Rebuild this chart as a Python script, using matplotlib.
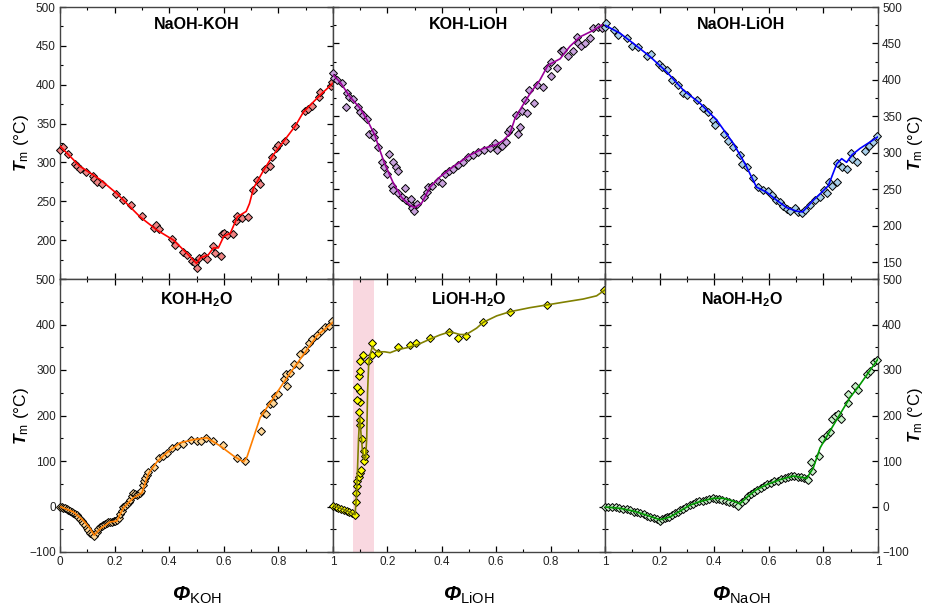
import matplotlib
matplotlib.use('Agg')
import matplotlib.pyplot as plt
from matplotlib.ticker import MultipleLocator

plt.rcParams['font.family'] = ['Liberation Sans', 'DejaVu Sans']
plt.rcParams['mathtext.fontset'] = 'custom'
plt.rcParams['mathtext.rm'] = 'Liberation Sans'
plt.rcParams['mathtext.it'] = 'Liberation Sans:italic'
plt.rcParams['mathtext.bf'] = 'Liberation Sans:bold:italic'
plt.rcParams['mathtext.sf'] = 'Liberation Sans:bold'

# ---------------- data ----------------
# NaOH-KOH
nk_px = [0, 0.01, 0.03, 0.055, 0.064, 0.073, 0.095, 0.12, 0.125, 0.134, 0.153, 0.205, 0.232, 0.26,
         0.302, 0.345, 0.352, 0.364, 0.41, 0.42, 0.452, 0.465, 0.483, 0.495, 0.50, 0.51, 0.528, 0.54,
         0.562, 0.568, 0.589, 0.595, 0.601, 0.611, 0.632, 0.644, 0.65, 0.666, 0.687, 0.707, 0.721,
         0.731, 0.75, 0.768, 0.778, 0.79, 0.80, 0.826, 0.862, 0.899, 0.91, 0.924, 0.947, 0.954,
         0.993, 0.996]
nk_py = [316, 320, 311, 298, 296, 291, 288, 283, 279, 275, 272, 259, 252, 245,
         231, 215, 219, 214, 201, 194, 185, 181, 173, 170, 164, 177, 180, 176,
         193, 183, 180, 208, 209, 206, 208, 225, 231, 228, 230, 265, 277,
         272, 291, 296, 307, 318, 322, 327, 347, 366, 369, 372, 384, 390,
         398, 404]
nk_lx = [0, 0.073, 0.147, 0.208, 0.293, 0.355, 0.416, 0.465, 0.50, 0.513, 0.543, 0.562, 0.58,
         0.60, 0.624, 0.65, 0.682, 0.694, 0.709, 0.746, 0.782, 0.819, 0.862, 0.892, 0.954, 1.0]
nk_ly = [321, 295, 278, 260, 230, 213, 200, 183, 170, 177, 181, 190, 190,
         205, 209, 230, 237, 247, 267, 290, 310, 327, 347, 365, 387, 402]

# KOH-LiOH
kl_px = [0, 0.004, 0.016, 0.032, 0.05, 0.048, 0.06, 0.072, 0.093, 0.10, 0.11, 0.124, 0.134, 0.146,
         0.152, 0.167, 0.179, 0.187, 0.197, 0.205, 0.219, 0.232, 0.24, 0.216, 0.222, 0.238, 0.252,
         0.266, 0.27, 0.283, 0.289, 0.298, 0.285, 0.31, 0.333, 0.345, 0.35, 0.363, 0.387, 0.40,
         0.412, 0.428, 0.442, 0.461, 0.479, 0.497, 0.516, 0.534, 0.555, 0.577, 0.596, 0.602, 0.62,
         0.636, 0.645, 0.65, 0.673, 0.679, 0.687, 0.694, 0.706, 0.714, 0.722, 0.739, 0.749, 0.773,
         0.786, 0.801, 0.801, 0.822, 0.838, 0.844, 0.865, 0.883, 0.896, 0.90, 0.91, 0.926, 0.945,
         0.957, 0.975, 0.988, 1.0]
kl_py = [409, 403, 400, 396, 382, 363, 377, 374, 363, 356, 352, 346, 326, 329,
         322, 308, 287, 281, 271, 299, 287, 280, 275, 255, 249, 245, 239,
         252, 235, 231, 225, 220, 237, 230, 239, 246, 253, 255, 262, 258,
         271, 275, 278, 283, 288, 294, 297, 301, 304, 306, 313, 304, 310,
         315, 329, 333, 352, 326, 336, 358, 372, 354, 386, 369, 393, 390,
         416, 425, 405, 416, 439, 441, 433, 439, 459, 450, 446, 451, 458,
         471, 473, 471, 475]
kl_lx = [0, 0.026, 0.062, 0.10, 0.13, 0.154, 0.17, 0.19, 0.22, 0.252, 0.283, 0.30, 0.326, 0.357,
         0.393, 0.442, 0.504, 0.552, 0.60, 0.626, 0.65, 0.669, 0.694, 0.724, 0.761, 0.79, 0.835,
         0.871, 0.908, 0.957, 1.0]
kl_ly = [407, 397, 377, 361, 342, 324, 306, 285, 260, 239, 228, 225, 231, 253,
         267, 281, 297, 306, 311, 317, 326, 347, 363, 381, 400, 420, 429,
         446, 459, 468, 478]

# NaOH-LiOH
nl_px = [0, 0.002, 0.033, 0.049, 0.079, 0.098, 0.122, 0.153, 0.167, 0.199, 0.208, 0.226, 0.244,
         0.269, 0.287, 0.299, 0.336, 0.36, 0.379, 0.397, 0.403, 0.436, 0.452, 0.47, 0.494, 0.50,
         0.519, 0.541, 0.562, 0.58, 0.598, 0.61, 0.626, 0.641, 0.653, 0.665, 0.678, 0.696, 0.708,
         0.72, 0.733, 0.751, 0.769, 0.788, 0.802, 0.812, 0.822, 0.83, 0.849, 0.851, 0.867, 0.885,
         0.90, 0.904, 0.924, 0.952, 0.968, 0.983, 0.995]
nl_py = [472, 478, 469, 462, 457, 446, 445, 433, 435, 422, 418, 413, 400,
         393, 382, 380, 373, 362, 356, 345, 338, 326, 316, 308, 297, 285,
         281, 265, 253, 249, 248, 242, 236, 233, 227, 223, 220, 225, 219,
         217, 221, 228, 235, 239, 249, 245, 260, 255, 286, 260, 281, 278,
         300, 292, 287, 303, 310, 315, 323]
nl_lx = [0, 0.055, 0.104, 0.165, 0.226, 0.287, 0.348, 0.409, 0.47, 0.513, 0.555, 0.592, 0.629,
         0.665, 0.702, 0.724, 0.763, 0.794, 0.818, 0.849, 0.867, 0.885, 0.904, 0.934, 1.0]
nl_ly = [475, 464, 450, 432, 411, 386, 368, 345, 313, 285, 253, 246, 235,
         225, 220, 219, 235, 246, 255, 285, 292, 287, 297, 306, 322]

# KOH-H2O
kw_px = [0, 0.006, 0.012, 0.018, 0.024, 0.03, 0.037, 0.043, 0.049, 0.055, 0.061, 0.067, 0.073,
         0.08, 0.086, 0.092, 0.098, 0.104, 0.11, 0.118, 0.126, 0.134, 0.14, 0.147, 0.153, 0.159,
         0.165, 0.171, 0.177, 0.183, 0.19, 0.196, 0.203, 0.21, 0.215, 0.22, 0.226, 0.232, 0.238,
         0.245, 0.251, 0.257, 0.262, 0.267, 0.274, 0.281, 0.287, 0.293, 0.298, 0.303, 0.308,
         0.313, 0.318, 0.324, 0.345, 0.364, 0.379, 0.391, 0.41, 0.428, 0.45, 0.479, 0.501, 0.516,
         0.535, 0.562, 0.597, 0.65, 0.678, 0.736, 0.746, 0.755, 0.768, 0.782, 0.789, 0.80, 0.819,
         0.829, 0.831, 0.844, 0.858, 0.874, 0.88, 0.899, 0.911, 0.923, 0.941, 0.956, 0.972,
         0.984, 0.996]
kw_py = [0, -1, -3, -4, -5, -7, -9, -11, -14, -16, -19, -23, -27,
         -31, -36, -41, -47, -52, -58, -61, -65, -56, -50, -46, -43, -40,
         -38, -36, -35, -34, -33, -32, -31, -30, -26, -16, -9, -2, 2,
         6, 10, 15, 22, 30, 28, 26, 28, 30, 34, 48, 56,
         62, 70, 76, 87, 106, 111, 118, 128, 133, 138, 147, 145, 144,
         150, 144, 135, 106, 100, 167, 206, 203, 226, 228, 243, 248, 280,
         291, 265, 294, 314, 311, 336, 344, 360, 368, 377, 385, 394,
         397, 408]
kw_lx = [0, 0.049, 0.086, 0.11, 0.125, 0.147, 0.183, 0.208, 0.232, 0.269, 0.30, 0.324, 0.355,
         0.391, 0.44, 0.489, 0.538, 0.587, 0.636, 0.672, 0.685, 0.733, 0.782, 0.831, 0.88, 0.941, 1.0]
kw_ly = [0, -12, -31, -48, -63, -49, -34, -32, -3, 19, 30, 72, 98,
         118, 140, 147, 151, 133, 111, 98, 109, 195, 239, 283, 324, 375, 405]

# LiOH-H2O
lw_px = [0, 0.01, 0.02, 0.03, 0.04, 0.05, 0.06, 0.07, 0.082, 0.083, 0.086, 0.088, 0.089, 0.094,
         0.10, 0.104, 0.114, 0.119, 0.113, 0.108, 0.10, 0.098, 0.094, 0.098, 0.089, 0.098, 0.089,
         0.096, 0.098, 0.098, 0.129, 0.110, 0.145, 0.143, 0.165, 0.24, 0.283, 0.305, 0.357, 0.428,
         0.461, 0.49, 0.55, 0.65, 0.786, 0.996]
lw_py = [1, -1, -3, -5, -7, -9, -12, -14, -18, 10, 29, 44, 55, 65,
         74, 81, 99, 110, 121, 149, 180, 191, 207, 229, 234, 254, 262,
         287, 298, 320, 320, 333, 332, 359, 337, 350, 355, 359, 371, 384,
         371, 375, 405, 428, 442, 476]
lw_lx = [0, 0.02, 0.04, 0.06, 0.081, 0.086, 0.09, 0.094, 0.098, 0.103, 0.108, 0.114, 0.12, 0.124,
         0.127, 0.131, 0.137, 0.145, 0.152, 0.165, 0.19, 0.21, 0.24, 0.28, 0.32, 0.357, 0.393,
         0.43, 0.467, 0.49, 0.528, 0.553, 0.602, 0.65, 0.724, 0.786, 0.847, 0.92, 0.969, 1.0]
lw_ly = [3, -2, -7, -12, -18, 20, 80, 150, 196, 160, 125, 105, 108, 150,
         250, 310, 335, 352, 345, 340, 340, 338, 345, 350, 358, 368, 377,
         384, 378, 378, 392, 405, 419, 428, 437, 443, 449, 456, 463, 476]
lw_band = [0.072, 0.15]

# NaOH-H2O
nw_px = [0.0, 0.012, 0.025, 0.04, 0.052, 0.066, 0.08, 0.093, 0.107, 0.118, 0.13, 0.142, 0.155,
         0.166, 0.178, 0.19, 0.2, 0.208, 0.218, 0.227, 0.236, 0.246, 0.256, 0.266, 0.276, 0.287,
         0.298, 0.31, 0.322, 0.334, 0.346, 0.358, 0.37, 0.382, 0.394, 0.406, 0.418, 0.43, 0.442,
         0.455, 0.468, 0.48, 0.488, 0.5, 0.512, 0.522, 0.534, 0.546, 0.558, 0.57, 0.582, 0.595,
         0.607, 0.62, 0.632, 0.645, 0.658, 0.67, 0.682, 0.694, 0.706, 0.718, 0.73, 0.739, 0.745,
         0.755, 0.758, 0.785, 0.794, 0.812, 0.824, 0.83, 0.843, 0.852, 0.863, 0.891, 0.891, 0.916,
         0.928, 0.958, 0.97, 0.985, 0.995]
nw_py = [0, -1, -2, -2, -4, -5, -6, -8, -11, -13, -15, -17, -20,
         -22, -25, -28, -32, -27, -26, -24, -22, -19, -15, -12, -8, -5,
         -1, 3, 6, 9, 11, 13, 15, 17, 18, 17, 16, 15, 13,
         10, 8, 5, 1, 10, 14, 22, 27, 32, 37, 41, 45, 49,
         52, 55, 57, 60, 62, 64, 66, 67, 65, 64, 62, 60, 58,
         98, 79, 110, 149, 157, 164, 192, 200, 204, 193, 248, 227, 264,
         256, 291, 297, 317, 322]
nw_lx = [0, 0.055, 0.104, 0.153, 0.201, 0.238, 0.275, 0.311, 0.348, 0.397, 0.433, 0.47, 0.494,
         0.525, 0.555, 0.592, 0.641, 0.69, 0.739, 0.763, 0.788, 0.824, 0.861, 0.897, 0.934, 1.0]
nw_ly = [-1, -4, -10, -19, -29, -23, -10, 3, 11, 18, 18, 12, 6,
         23, 37, 48, 59, 67, 62, 85, 129, 166, 203, 239, 268, 324]

titles = ['NaOH-KOH', 'KOH-LiOH', 'NaOH-LiOH',
          'KOH-H$_\\mathsf{2}$O', 'LiOH-H$_\\mathsf{2}$O', 'NaOH-H$_\\mathsf{2}$O']
xlabels = ['KOH', 'LiOH', 'NaOH']
top_yticks = [150, 200, 250, 300, 350, 400, 450, 500]
bot_yticks = [-100, 0, 100, 200, 300, 400, 500]
xticks = [0, 0.2, 0.4, 0.6, 0.8, 1]
mcolors = ['#f08484', '#c8a2dc', '#a9cfe9', '#ffd797', '#ffff00', '#c9f1c9']
lcolors = ['#ff0000', '#990099', '#0000ff', '#ff7f00', '#808000', '#009900']

# ---------------- figure ----------------
fig = plt.figure(figsize=(9.26, 6.06), dpi=100)
W, H = 926.0, 606.0
xl = [60, 333, 605, 878]
rows = [(7, 279), (279, 552)]

panels = [(nk_px, nk_py, nk_lx, nk_ly), (kl_px, kl_py, kl_lx, kl_ly), (nl_px, nl_py, nl_lx, nl_ly),
          (kw_px, kw_py, kw_lx, kw_ly), (lw_px, lw_py, lw_lx, lw_ly), (nw_px, nw_py, nw_lx, nw_ly)]

ylab = '$\\mathbf{T}_\\mathrm{m}$ (°C)'
spine_col = '#444444'

for i in range(6):
    r, c = divmod(i, 3)
    top, bot = rows[r]
    pw = xl[c + 1] - xl[c]
    ax = fig.add_axes([xl[c] / W, 1 - bot / H, pw / W, (bot - top) / H])
    px, py, lx, ly = panels[i]

    if i == 4:
        ax.axvspan(lw_band[0], lw_band[1], color='#f9d8e0', lw=0, zorder=0)

    ax.plot(px, py, 'D', ms=4, mfc=mcolors[i], mec='black', mew=0.7, clip_on=False, zorder=3)
    ax.plot(lx, ly, '-', color=lcolors[i], lw=1.2, zorder=4)

    ax.set_xlim(0, 1)
    ax.set_xticks(xticks)
    ax.xaxis.set_minor_locator(MultipleLocator(0.1))

    if r == 0:
        ax.set_ylim(150 if c == 0 else 127, 500)
        ax.set_yticks(top_yticks)
        ax.yaxis.set_minor_locator(MultipleLocator(25))
        ax.set_xticklabels([])
        ax.text(0.5, 0.935, titles[i], transform=ax.transAxes, ha='center', va='center',
                fontsize=11.5, fontweight='bold')
    else:
        ax.set_ylim(-100, 500)
        ax.set_yticks(bot_yticks)
        ax.yaxis.set_minor_locator(MultipleLocator(50))
        if c == 0:
            ax.set_xticklabels(['0', '0.2', '0.4', '0.6', '0.8', '1'])
        else:
            ax.set_xticklabels(['', '0.2', '0.4', '0.6', '0.8', '1'])
        ax.text(0.5, 0.925, titles[i], transform=ax.transAxes, ha='center', va='center',
                fontsize=11.5, fontweight='bold')
        ax.set_xlabel('$\\mathbf{\u03a6}_\\mathrm{' + xlabels[c] + '}$', fontsize=15, labelpad=12)

    ax.tick_params(which='both', direction='in', top=True, right=True, left=True, bottom=True,
                   labelsize=8.5, labelcolor='#222222', pad=3)
    ax.tick_params(which='major', length=4.5, width=0.9)
    ax.tick_params(which='minor', length=2.5, width=0.8)

    if c == 0:
        ax.set_ylabel(ylab, fontsize=12.5)
        ax.yaxis.set_label_coords(-29.0 / pw, 0.5)
        if r == 0:
            ax.set_yticklabels(['' if v == 150 else '%d' % v for v in top_yticks])
    elif c == 1:
        ax.set_yticklabels([])
    else:
        ax.tick_params(labelleft=False, labelright=True)
        ax.yaxis.set_label_position('right')
        ax.set_ylabel(ylab, fontsize=12)
        ax.yaxis.set_label_coords(1 + 28.0 / pw, 0.5)

    for s in ax.spines.values():
        s.set_color(spine_col)
        s.set_linewidth(1.0)

plt.savefig('out.png', dpi=100)
